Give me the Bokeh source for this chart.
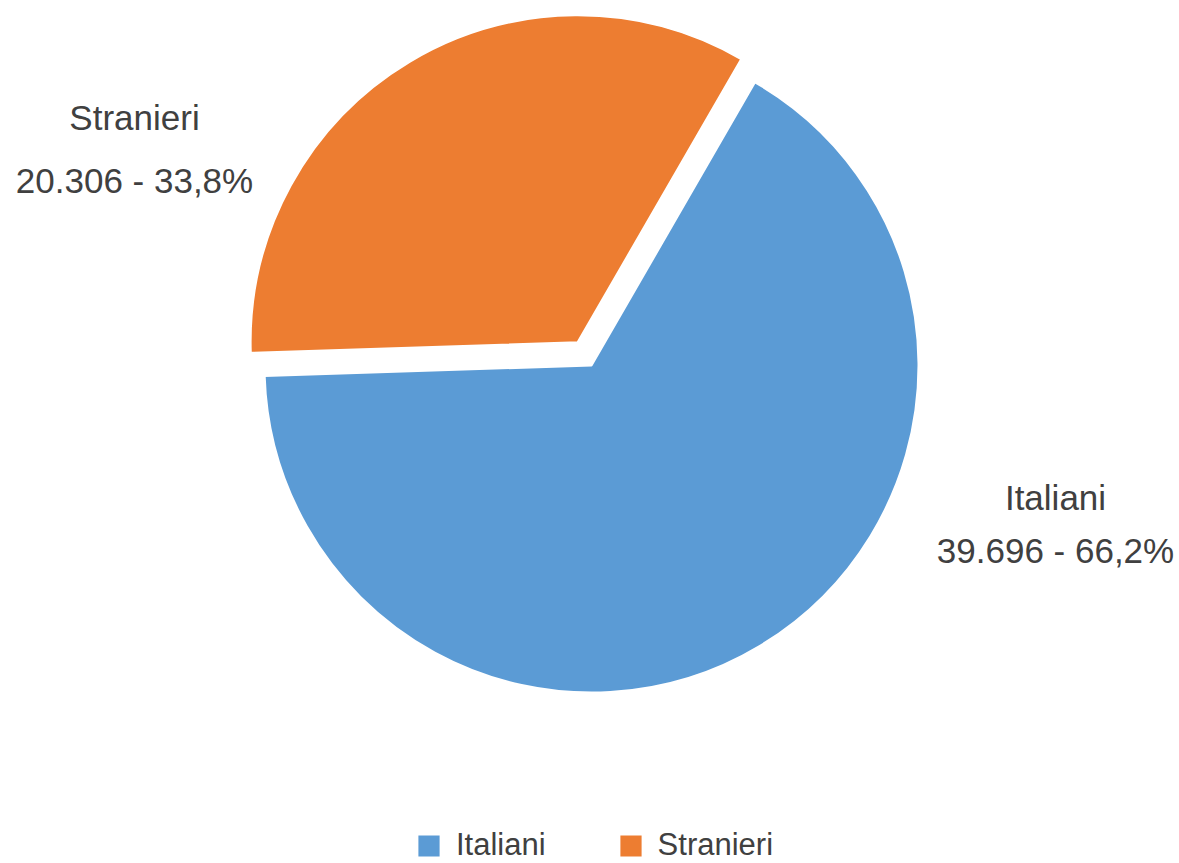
import math
from bokeh.plotting import figure
from bokeh.models import Range1d, Legend, LegendItem, ColumnDataSource
from bokeh.embed import file_html
from bokeh.resources import INLINE
from bokeh.core.properties import value

# ---- data ----
categories = ["Italiani", "Stranieri"]
counts = [39696, 20306]
colors = ["#5B9BD5", "#ED7D31"]
explode_px = [0, 27]

# ---- layout (screen-like coordinates: x = px, y = 863 - px) ----
W, H = 1179, 863
CX, CY, R = 591, 863 - 365, 327
FIRST_ANGLE = 30.0  # clockwise from 12 o'clock
label_pos = {"Italiani": (1055, 863 - 497, 863 - 550),
             "Stranieri": (134, 863 - 117, 863 - 180)}
TEXT_COLOR = "#404040"
FONT = "Liberation Sans"

total = sum(counts)
xs, ys, starts, ends = [], [], [], []
cw = FIRST_ANGLE
for c, e in zip(counts, explode_px):
    span = 360.0 * c / total
    cw_s, cw_e = cw, cw + span
    bis = math.radians(90 - (cw_s + cw_e) / 2)
    xs.append(CX + e * math.cos(bis))
    ys.append(CY + e * math.sin(bis))
    starts.append(math.radians(90 - cw_e))
    ends.append(math.radians(90 - cw_s))
    cw = cw_e

src = ColumnDataSource(dict(x=xs, y=ys, start=starts, end=ends, color=colors, cat=categories))

p = figure(width=W, height=H, x_range=Range1d(0, W), y_range=Range1d(0, H),
           output_backend="svg", toolbar_location=None, min_border=0)
p.axis.visible = False
p.grid.visible = False
p.outline_line_color = None

r = p.wedge(x="x", y="y", radius=R, start_angle="start", end_angle="end",
            fill_color="color", line_color="white", line_width=2, source=src)

def fmt(n, pct):
    return f"{n:,}".replace(",", ".") + " - " + f"{pct:.1f}".replace(".", ",") + "%"

tx, ty, tt = [], [], []
for cat, n in zip(categories, counts):
    lx, ly1, ly2 = label_pos[cat]
    tx += [lx, lx]
    ty += [ly1, ly2]
    tt += [cat, fmt(n, 100.0 * n / total)]

p.text(x=tx, y=ty, text=tt, text_align="center", text_baseline="alphabetic",
       text_font=value(FONT), text_font_size="35px", text_color=TEXT_COLOR)

legend = Legend(items=[LegendItem(label=categories[i], renderers=[r], index=i) for i in range(len(categories))],
                orientation="horizontal", location=(414, 0),
                glyph_width=29, glyph_height=29, label_standoff=13, spacing=70,
                padding=0, margin=0, border_line_color=None, background_fill_alpha=0,
                label_text_font=FONT, label_text_font_size="31px",
                label_text_color=TEXT_COLOR)
p.add_layout(legend)

open("out.html", "w").write(file_html(p, INLINE))
